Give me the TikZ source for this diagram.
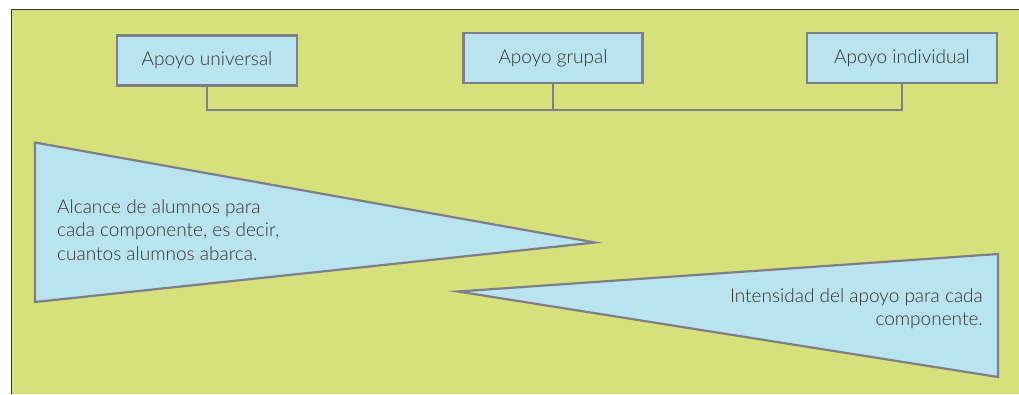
\documentclass[tikz,border=0pt]{standalone}
\usepackage{fontspec}
\setmainfont{Lato Light}
\definecolor{bggreen}{HTML}{D6E17C}
\definecolor{boxblue}{HTML}{B9E3EF}
\definecolor{edgegray}{HTML}{7F7F88}
\definecolor{txt}{HTML}{333333}
\begin{document}
\begin{tikzpicture}[x=1pt,y=-1pt,
  box/.style={draw=edgegray,line width=2.6pt,fill=boxblue,text=txt,inner sep=0pt,font=\fontsize{19}{23.5}\selectfont},
  conn/.style={draw=edgegray,line width=2pt},
  tri/.style={draw=edgegray,line width=2.2pt,fill=boxblue,line join=miter},
  lbl/.style={text=txt,inner sep=0pt,font=\fontsize{19}{23.5}\selectfont}]
\useasboundingbox (0,0) rectangle (1019,394);
\fill[white] (0,0) rectangle (1019,394);
\fill[bggreen] (11,9) rectangle (1019,394);
\draw[line width=1pt,draw=black!80] (11,394) -- (11,9) -- (1019,9);
% boxes
\node[box,minimum width=180pt,minimum height=50pt] (b1) at (207,60.5) {Apoyo universal};
\node[box,minimum width=179pt,minimum height=50pt] (b2) at (553,58) {Apoyo grupal};
\node[box,minimum width=190pt,minimum height=50pt] (b3) at (902,58) {Apoyo individual};
\coordinate (j2) at (553,111);
\draw[conn] (b1.south) -- ++(0,23) -| (b3.south);
\draw[conn] (b2.south) -- (j2);
% triangles
\coordinate (t1a) at (35,142.5);
\coordinate (t1b) at (595,242.5);
\coordinate (t1c) at (35,302);
\draw[tri] (t1a) -- (t1b) -- (t1c) -- cycle;
\coordinate (t2a) at (998,254);
\coordinate (t2b) at (458,291.5);
\coordinate (t2c) at (998,377);
\draw[tri] (t2a) -- (t2b) -- (t2c) -- cycle;
\node[lbl,anchor=west,align=left] (l1) at (57,230) {Alcance de alumnos para\\cada componente, es decir,\\cuantos alumnos abarca.};
\node[lbl,anchor=east,align=right] (l2) at (983,309) {Intensidad del apoyo para cada\\componente.};
\end{tikzpicture}
\end{document}
